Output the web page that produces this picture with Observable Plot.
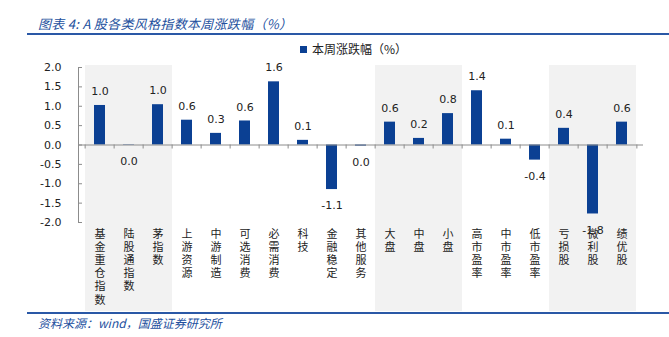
<!DOCTYPE html>
<html><head><meta charset="utf-8">
<script src="https://cdn.jsdelivr.net/npm/d3@7"></script>
<script src="https://cdn.jsdelivr.net/npm/@observablehq/plot@0.6"></script>
<style>
body{margin:0;background:#fff;}
#wrap{position:relative;width:669px;height:337px;overflow:hidden;font-family:"Noto Sans CJK SC","Noto Sans",sans-serif;}
#wrap svg{position:absolute;left:0;top:0;}
.title{position:absolute;left:38px;top:14px;font-size:13px;font-style:italic;color:#23509e;white-space:nowrap;letter-spacing:0.3px;}
.rule{position:absolute;left:27px;right:0;height:2px;background:#2a58a6;}
.legend{position:absolute;left:300px;top:40px;font-size:12px;color:#222;white-space:nowrap;}
.legend span{display:inline-block;width:7px;height:7px;background:#0b4093;margin-right:5px;vertical-align:1px;}
.caption{position:absolute;left:38px;top:314px;font-size:12px;font-style:italic;color:#23509e;white-space:nowrap;}
</style></head>
<body>
<div id="wrap">
  <div class="title">图表 4: A 股各类风格指数本周涨跌幅（%）</div>
  <div class="rule" style="top:33px"></div>
  <div class="legend"><span></span>本周涨跌幅（%）</div>
  <div id="chart"></div>
  <div class="rule" style="top:312px"></div>
  <div class="caption">资料来源：wind，国盛证券研究所</div>
</div>
<script>
const categories = ["基金重仓指数","陆股通指数","茅指数","上游资源","中游制造","可选消费","必需消费","科技","金融稳定","其他服务","大盘","中盘","小盘","高市盈率","中市盈率","低市盈率","亏损股","微利股","绩优股"];
const values = [1.02,-0.01,1.04,0.64,0.30,0.62,1.63,0.12,-1.15,-0.03,0.59,0.17,0.81,1.40,0.15,-0.39,0.43,-1.78,0.59];
const shaded = ["基金重仓指数","陆股通指数","茅指数","大盘","中盘","小盘","亏损股","微利股","绩优股"];
const yTicks = [-2,-1.5,-1,-0.5,0,0.5,1,1.5,2];

const data = categories.map((c,i)=>({cat:c, value:values[i]}));
// one entry per character of each category name (labels are stacked vertically)
const labelChars = categories.flatMap(c => Array.from(c).map((ch, i) => ({cat: c, ch, i})));
const maxLen = d3.max(categories, c => Array.from(c).length);

const locale = d3.formatLocale({decimal: ".", thousands: ",", grouping: [3], currency: ["", ""], minus: "-"});
const f1 = locale.format(".1f");
const fmt = v => { const s = f1(v); return s === "-0.0" ? "0.0" : s; };

const W = 669, H = 337, mL = 78, mR = 26, mT = 67, mB = 115;
const step = (W - mL - mR) / categories.length;
const barColor = "#0b4093";
const axisColor = "#8c8c8c";
const numFont = "DejaVu Sans";
const charStep = 13.2;

const labelMarks = d3.range(maxLen).map(k =>
  Plot.text(labelChars.filter(d => d.i === k), {
    x: "cat", frameAnchor: "bottom", text: "ch", dy: 15 + k * charStep,
    fontSize: 11, fontFamily: "'Liberation Sans', 'Noto Sans CJK SC', sans-serif", fill: "#222"
  })
);

const chart = Plot.plot({
  width: W, height: H,
  marginLeft: mL, marginRight: mR, marginTop: mT, marginBottom: mB,
  x: {domain: categories, padding: 0, label: null, axis: null},
  y: {domain: [-2, 2], label: null},
  style: {background: "transparent"},
  marks: [
    Plot.barY(shaded, {x: d => d, y1: -2, y2: 2, fill: "#f2f2f2", insetTop: -2, insetBottom: -89}),
    Plot.barY(data, {x: "cat", y: "value", fill: barColor, insetLeft: 9, insetRight: 9}),
    Plot.ruleY([0], {stroke: axisColor}),
    Plot.ruleX(categories, {x: d => d, y1: 0, y2: 0, insetBottom: -4, dx: -step/2, stroke: axisColor}),
    Plot.ruleX([categories[categories.length-1]], {x: d => d, y1: 0, y2: 0, insetBottom: -4, dx: step/2, stroke: axisColor}),
    Plot.frame({anchor: "left", stroke: axisColor}),
    Plot.axisY({ticks: yTicks, tickFormat: f1, tickSize: -4, tickPadding: 21, stroke: axisColor, fontSize: 11, fontFamily: numFont, fill: "#222", label: null}),
    ...labelMarks,
    Plot.text(data.filter(d => d.value >= 0), {x: "cat", y: "value", text: d => fmt(d.value), dy: -14, fontSize: 11, fontFamily: numFont, fill: "#222"}),
    Plot.text(data.filter(d => d.value < 0), {x: "cat", y: "value", text: d => fmt(d.value), dy: 16, fontSize: 11, fontFamily: numFont, fill: "#222"})
  ]
});
document.getElementById("chart").appendChild(chart);
</script>
</body></html>
